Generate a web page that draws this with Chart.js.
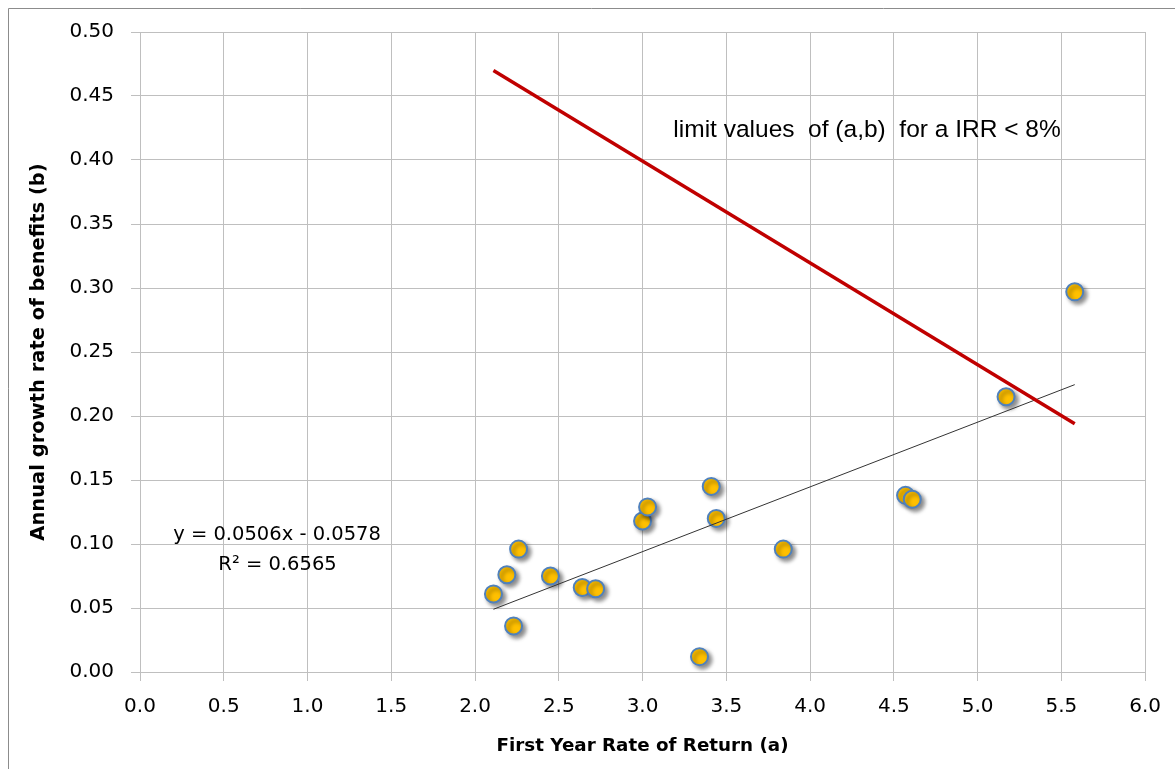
<!DOCTYPE html>
<html>
<head>
<meta charset="utf-8">
<script src="https://cdn.jsdelivr.net/npm/chart.js@4.4.1/dist/chart.umd.min.js"></script>
<style>
  html, body { margin: 0; padding: 0; background: #fff; }
  #wrap { width: 1175px; height: 769px; position: relative; }
</style>
</head>
<body>
<div id="wrap"><canvas id="myChart"></canvas></div>
<script>
// data
var rateA = [2.11, 2.19, 2.26, 2.23, 2.45, 2.64, 2.72, 3.00, 3.03, 3.34, 3.41, 3.44, 3.84, 4.57, 4.61, 5.17, 5.58];
var growthB = [0.061, 0.076, 0.096, 0.036, 0.075, 0.066, 0.065, 0.118, 0.129, 0.012, 0.145, 0.120, 0.096, 0.138, 0.135, 0.215, 0.297];

// linear trend line ends
var trendX = [2.11, 5.58];
var trendY = [0.049, 0.2245];

// limit values of (a,b) for IRR < 8%
var limitX = [2.11, 5.58];
var limitY = [0.470, 0.194];

var xTicks = [0, 6, 0.5];
var yTicks = [0, 0.5, 0.05];

function toPoints(xs, ys) {
  var pts = [];
  for (var i = 0; i < xs.length; i++) {
    pts.push({x: xs[i], y: ys[i]});
  }
  return pts;
}

var gridGrey = '#BFBFBF';
var tickFont = {family: 'DejaVu Sans', size: 20};

// little plugin: frame, marker shadow and the text notes
var extras = {
  id: 'extras',
  beforeDraw: function(chart) {
    var ctx = chart.ctx;
    ctx.save();
    ctx.strokeStyle = '#8c8c8c';
    ctx.lineWidth = 1;
    ctx.beginPath();
    ctx.moveTo(8.5, 769);
    ctx.lineTo(8.5, 8.5);
    ctx.lineTo(1175, 8.5);
    ctx.stroke();
    ctx.restore();
  },
  beforeDatasetDraw: function(chart, args) {
    if (args.index === 2) {
      var ctx = chart.ctx;
      ctx.save();
      ctx.shadowColor = 'rgba(0,0,0,0.45)';
      ctx.shadowBlur = 4;
      ctx.shadowOffsetX = 3;
      ctx.shadowOffsetY = 3;
    }
  },
  afterDatasetDraw: function(chart, args) {
    if (args.index === 2) {
      chart.ctx.restore();
    }
  },
  afterDatasetsDraw: function(chart) {
    var ctx = chart.ctx;
    var xs = chart.scales.x, ys = chart.scales.y;
    ctx.save();
    ctx.fillStyle = '#000';
    ctx.textAlign = 'center';
    ctx.textBaseline = 'middle';
    ctx.font = '24.5px "Liberation Sans"';
    ctx.fillText('limit values  of (a,b)  for a IRR < 8%', xs.getPixelForValue(4.34), ys.getPixelForValue(0.4236));
    ctx.font = '19.5px "DejaVu Sans"';
    ctx.fillText('y = 0.0506x - 0.0578', xs.getPixelForValue(0.818), ys.getPixelForValue(0.1069));
    ctx.fillText('R\u00B2 = 0.6565', xs.getPixelForValue(0.821), ys.getPixelForValue(0.0834));
    ctx.restore();
  }
};

new Chart(document.getElementById('myChart'), {
  type: 'scatter',
  data: {
    datasets: [
      {
        label: 'limit',
        type: 'line',
        data: toPoints(limitX, limitY),
        borderColor: '#C00000',
        borderWidth: 3.5,
        pointRadius: 0,
        fill: false
      },
      {
        label: 'trend',
        type: 'line',
        data: toPoints(trendX, trendY),
        borderColor: '#333333',
        borderWidth: 1,
        pointRadius: 0,
        fill: false
      },
      {
        label: 'projects',
        data: toPoints(rateA, growthB),
        backgroundColor: '#FFC000',
        borderColor: '#4F81BD',
        borderWidth: 2,
        pointRadius: 8.5,
        pointHoverRadius: 8.5
      }
    ]
  },
  options: {
    responsive: true,
    maintainAspectRatio: false,
    animation: false,
    events: [],
    layout: { padding: {left: 0, top: 32, right: 28, bottom: 0} },
    plugins: {
      legend: { display: false },
      tooltip: { enabled: false }
    },
    scales: {
      x: {
        type: 'linear',
        min: xTicks[0],
        max: xTicks[1],
        afterFit: function(scale) { scale.height = 97; },
        ticks: {
          stepSize: xTicks[2],
          color: '#000',
          font: tickFont,
          padding: 14,
          maxRotation: 0,
          callback: function(v) { return v.toFixed(1); }
        },
        grid: { color: gridGrey, tickColor: gridGrey, tickLength: 9, lineWidth: 1 },
        border: { color: gridGrey },
        title: {
          display: true,
          text: 'First Year Rate of Return (a)',
          color: '#000',
          font: {family: 'DejaVu Sans', size: 18.3, weight: 'bold'},
          padding: {top: 0, bottom: 12}
        }
      },
      y: {
        type: 'linear',
        min: yTicks[0],
        max: yTicks[1],
        afterFit: function(scale) { scale.width = 140; },
        ticks: {
          stepSize: yTicks[2],
          color: '#000',
          font: tickFont,
          padding: 17,
          callback: function(v) { return v.toFixed(2); }
        },
        grid: { color: gridGrey, tickColor: gridGrey, tickLength: 9, lineWidth: 1 },
        border: { color: gridGrey },
        title: {
          display: true,
          text: 'Annual growth rate of benefits (b)',
          color: '#000',
          font: {family: 'DejaVu Sans', size: 19.5, weight: 'bold'},
          padding: {top: 27, bottom: 0}
        }
      }
    }
  },
  plugins: [extras]
});
</script>
</body>
</html>
